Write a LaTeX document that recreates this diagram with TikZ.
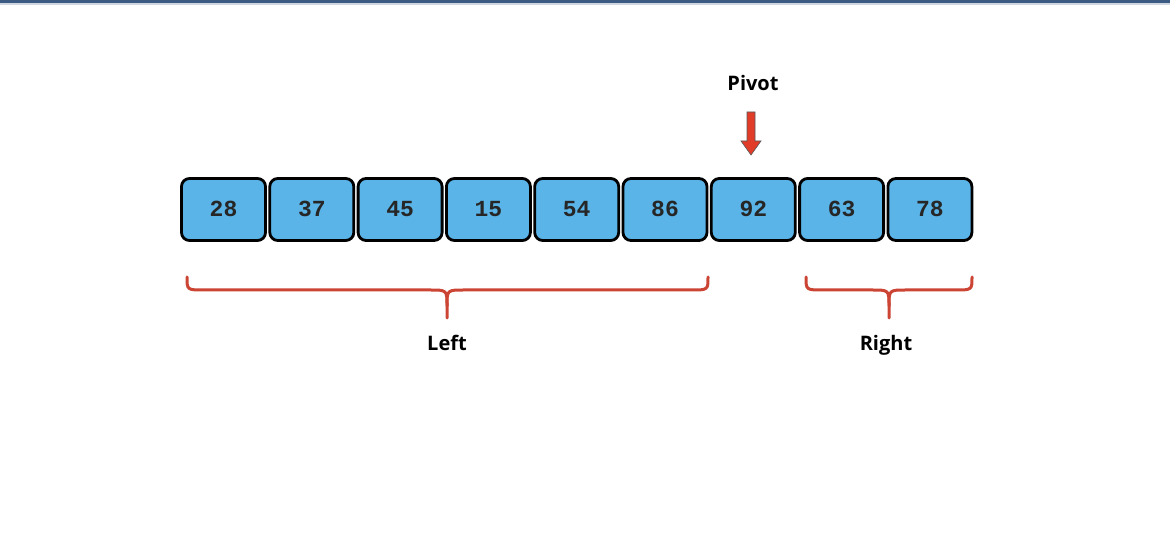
\documentclass[tikz,border=0pt]{standalone}
\usepackage{fontspec}
\newfontfamily\labfont{Open Sans}
\newfontfamily\numfont{Liberation Mono}
\definecolor{boxfill}{HTML}{5AB4E8}
\definecolor{bracered}{HTML}{CC4433}
\definecolor{arrowred}{HTML}{E03C28}
\definecolor{topbar}{HTML}{3B5B82}
\begin{document}
\begin{tikzpicture}[x=1pt,y=-1pt,
  cell/.style={draw=black,line width=2.8pt,fill=boxfill,rounded corners=8pt,
    minimum width=84pt,minimum height=62pt,inner sep=0pt,
    text height=15pt,text depth=0pt,text=black!85,
    font=\numfont\bfseries\fontsize{23}{25}\selectfont},
  lab/.style={font=\labfont\bfseries\fontsize{20}{24}\selectfont,inner sep=0pt,anchor=base},
  brace/.style={draw=bracered,line width=3pt,line cap=round,line join=round}]
\useasboundingbox (0,0) rectangle (1170,534);
\fill[white] (0,0) rectangle (1170,534);
\fill[topbar] (0,0) rectangle (1170,3.5);
\fill[topbar!25] (0,3.5) rectangle (1170,5);
\foreach \v [count=\i] in {28,37,45,15,54,86,92,63,78}{
  \node[cell] (b\i) at ({223.5+88.3*(\i-1)},209.5) {\v};
}
\node[lab] (pivot) at (753,91) {Pivot};
\fill[arrowred,draw=gray!70!black,line width=0.6pt]
  (747,112) -- (755,112) -- (755,141) -- (761,141) -- (751,155) -- (741,141) -- (747,141) -- cycle;
\coordinate (lA) at (187,277);
\coordinate (lB) at (708,277);
\coordinate (lM) at (447,318);
\coordinate (rA) at (806,277);
\coordinate (rB) at (972,277);
\coordinate (rM) at (889,318);
\draw[brace] (lA) .. controls (187,290) .. (204,290) -- (430,290) .. controls (447,290) .. (447,306) -- (lM);
\draw[brace] (lB) .. controls (708,290) .. (691,290) -- (464,290) .. controls (447,290) .. (447,306);
\draw[brace] (rA) .. controls (806,290) .. (823,290) -- (872,290) .. controls (889,290) .. (889,306) -- (rM);
\draw[brace] (rB) .. controls (972,290) .. (955,290) -- (906,290) .. controls (889,290) .. (889,306);
\node[lab] (left) at (447,351) {Left};
\node[lab] (right) at (886,351) {Right};
\end{tikzpicture}
\end{document}
